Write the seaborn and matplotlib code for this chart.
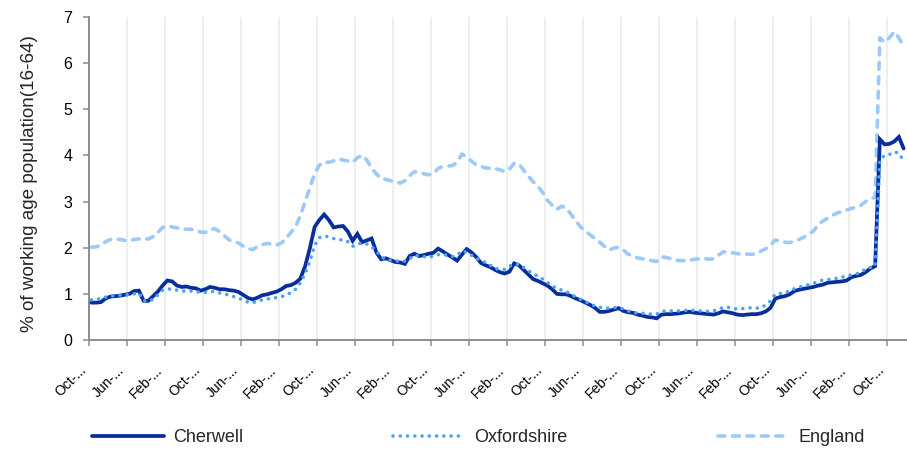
import numpy as np
import pandas as pd
import matplotlib
matplotlib.use("Agg")
import matplotlib.pyplot as plt
import matplotlib.transforms as mtransforms
import seaborn as sns

# ---- data (monthly claimant rate, % of working age population 16-64) ----
cherwell = [
    0.81, 0.81, 0.82, 0.90, 0.94, 0.95, 0.96, 0.98, 1.00, 1.06,
    1.07, 0.85, 0.85, 0.95, 1.05, 1.18, 1.29, 1.27, 1.18, 1.15,
    1.16, 1.13, 1.12, 1.07, 1.10, 1.15, 1.13, 1.10, 1.10,
    1.08, 1.07, 1.04, 0.975, 0.91, 0.88, 0.92, 0.97, 0.99, 1.02,
    1.05, 1.10, 1.17, 1.19, 1.24, 1.33, 1.60, 1.99, 2.45, 2.60,
    2.72, 2.60, 2.44, 2.46, 2.47, 2.35, 2.15,
    2.30, 2.12, 2.16, 2.20, 1.90, 1.75, 1.77, 1.73, 1.69, 1.68,
    1.65, 1.82, 1.87, 1.82, 1.84, 1.87, 1.89, 1.98, 1.92, 1.85,
    1.79, 1.72, 1.85, 1.97, 1.90, 1.80, 1.67, 1.62, 1.58, 1.52,
    1.47, 1.44, 1.48, 1.66, 1.62, 1.52, 1.42, 1.32, 1.28, 1.23,
    1.18, 1.10, 1.00, 0.99, 0.99, 0.95, 0.90, 0.86, 0.81, 0.76,
    0.70, 0.61, 0.61, 0.63, 0.66, 0.69, 0.63, 0.60,
    0.59, 0.55, 0.53, 0.50, 0.49, 0.47, 0.55, 0.56, 0.56, 0.57,
    0.58, 0.60, 0.61, 0.59, 0.58, 0.57, 0.56, 0.55, 0.58, 0.62,
    0.60, 0.58, 0.55, 0.54, 0.55, 0.56, 0.56, 0.58, 0.62,
    0.70, 0.90, 0.93, 0.95, 0.99, 1.06, 1.09, 1.11, 1.13, 1.15,
    1.18, 1.20, 1.24, 1.25, 1.26, 1.27, 1.29, 1.36, 1.39, 1.41,
    1.47, 1.55, 1.60, 4.35, 4.24, 4.25, 4.30, 4.40, 4.15,
]

oxfordshire = [
    0.87, 0.88, 0.90, 0.93, 0.95, 0.96, 0.97, 0.97, 0.99, 1.00,
    1.02, 0.86, 0.84, 0.88, 0.98, 1.08, 1.10, 1.11, 1.08, 1.06,
    1.06, 1.06, 1.05, 1.03, 1.03, 1.05, 1.05, 1.02, 1.00,
    0.97, 0.94, 0.91, 0.86, 0.82, 0.81, 0.84, 0.87, 0.89, 0.90,
    0.92, 0.94, 0.97, 1.03, 1.10, 1.24, 1.44, 1.70, 2.05, 2.22,
    2.25, 2.24, 2.20, 2.17, 2.17, 2.13, 2.03,
    2.08, 2.10, 2.08, 2.02, 1.93, 1.80, 1.75, 1.73, 1.72, 1.70,
    1.71, 1.76, 1.84, 1.82, 1.81, 1.79, 1.82, 1.85, 1.86, 1.83,
    1.81, 1.84, 1.93, 1.90, 1.84, 1.77, 1.72, 1.68, 1.62, 1.55,
    1.53, 1.53, 1.60, 1.64, 1.64, 1.57, 1.50, 1.44, 1.38, 1.32,
    1.25, 1.17, 1.12, 1.08, 1.05, 0.99, 0.93, 0.88, 0.83, 0.78,
    0.74, 0.71, 0.69, 0.69, 0.70, 0.71, 0.67, 0.63,
    0.60, 0.58, 0.58, 0.57, 0.56, 0.56, 0.62, 0.63, 0.63, 0.63,
    0.63, 0.64, 0.65, 0.64, 0.63, 0.63, 0.62, 0.63, 0.68, 0.70,
    0.71, 0.68, 0.67, 0.68, 0.69, 0.70, 0.69, 0.70, 0.76,
    0.85, 1.00, 1.01, 1.02, 1.07, 1.11, 1.15, 1.17, 1.20, 1.23,
    1.26, 1.30, 1.31, 1.32, 1.34, 1.36, 1.39, 1.41, 1.43, 1.47,
    1.54, 1.57, 1.60, 3.90, 4.00, 4.02, 4.08, 4.05, 3.88,
]

england = [
    2.01, 2.02, 2.05, 2.13, 2.18, 2.19, 2.18, 2.16, 2.15, 2.18,
    2.19, 2.18, 2.19, 2.24, 2.33, 2.44, 2.47, 2.45, 2.43, 2.40,
    2.40, 2.40, 2.37, 2.34, 2.33, 2.40, 2.41, 2.35, 2.26,
    2.17, 2.13, 2.10, 2.03, 1.98, 1.96, 2.03, 2.07, 2.09, 2.08,
    2.06, 2.10, 2.20, 2.33, 2.45, 2.70, 3.00, 3.30, 3.60, 3.79,
    3.86, 3.85, 3.88, 3.92, 3.90, 3.88, 3.85,
    3.95, 4.00, 3.90, 3.72, 3.60, 3.50, 3.48, 3.45, 3.43, 3.40,
    3.45, 3.56, 3.65, 3.62, 3.60, 3.58, 3.60, 3.72, 3.76, 3.77,
    3.78, 3.85, 4.03, 3.97, 3.88, 3.80, 3.76, 3.73, 3.72, 3.71,
    3.69, 3.65, 3.70, 3.83, 3.82, 3.68, 3.55, 3.43, 3.33, 3.20,
    3.03, 2.92, 2.83, 2.90, 2.86, 2.72, 2.58, 2.45, 2.36, 2.28,
    2.20, 2.12, 2.03, 1.95, 1.99, 2.01, 1.95, 1.86,
    1.82, 1.78, 1.76, 1.74, 1.72, 1.70, 1.80, 1.79, 1.76, 1.73,
    1.72, 1.72, 1.73, 1.75, 1.76, 1.77, 1.75, 1.76, 1.84, 1.91,
    1.91, 1.89, 1.87, 1.86, 1.86, 1.86, 1.86, 1.93, 1.98,
    2.06, 2.17, 2.14, 2.12, 2.11, 2.14, 2.18, 2.23, 2.29, 2.36,
    2.50, 2.58, 2.64, 2.70, 2.75, 2.79, 2.82, 2.85, 2.88, 2.92,
    3.00, 3.05, 3.10, 6.55, 6.45, 6.55, 6.68, 6.55, 6.35,
]

tick_labels = ["Oct-...", "Jun-...", "Feb-..."] * 7 + ["Oct-..."]
y_ticks = [0, 1, 2, 3, 4, 5, 6, 7]

months = np.arange(len(cherwell))
df = pd.DataFrame({
    "month": months,
    "Cherwell": cherwell,
    "Oxfordshire": oxfordshire,
    "England": england,
})

sns.set_style("white")
plt.rcParams["font.family"] = ["Liberation Sans", "DejaVu Sans"]

W, H = 907, 449
fig = plt.figure(figsize=(W / 100, H / 100), dpi=100)
ax = fig.add_axes([89 / W, 1 - 340 / H, 1 - 89 / W, (340 - 17) / H])

c_cher = "#0a2d9c"
c_oxf = "#4ba2f5"
c_eng = "#9dcafb"

sns.lineplot(data=df, x="month", y="England", ax=ax, color=c_eng,
             linewidth=2.6, linestyle=(0, (1.9, 2.1)),
             dash_capstyle="round", label="England", zorder=2)
sns.lineplot(data=df, x="month", y="Cherwell", ax=ax, color=c_cher,
             linewidth=2.7, solid_joinstyle="miter", label="Cherwell", zorder=3)
sns.lineplot(data=df, x="month", y="Oxfordshire", ax=ax, color=c_oxf,
             linewidth=2.6, linestyle=(0, (0.01, 2.0)),
             dash_capstyle="round", label="Oxfordshire", zorder=4)

ax.set_xlim(-0.5, (907 - 89) / 4.75 - 0.5)
ax.set_ylim(0, 7)
ax.set_yticks(y_ticks)
ax.set_yticklabels([str(v) for v in y_ticks])

tick_pos = [-0.5 + 8 * k for k in range(len(tick_labels))]
ax.set_xticks(tick_pos)
ax.set_xticklabels(tick_labels)

ax.set_xlabel("")
ax.set_ylabel("% of working age population(16-64)", fontsize=13.6)
ax.yaxis.set_label_coords(-0.062, 0.485)

spine_c = "#8c8c8c"
for s in ["top", "right"]:
    ax.spines[s].set_visible(False)
for s in ["left", "bottom"]:
    ax.spines[s].set_color(spine_c)
    ax.spines[s].set_linewidth(1.4)

ax.tick_params(axis="y", length=4, width=1.1, color=spine_c, pad=8,
               labelsize=11.5, left=True, labelcolor="black")
ax.tick_params(axis="x", length=4, width=1.1, color=spine_c, pad=16,
               labelsize=10, bottom=True, labelcolor="black")

offset = mtransforms.ScaledTranslation(-5 / 100, 0, fig.dpi_scale_trans)
for lab in ax.get_xticklabels():
    lab.set_rotation(45)
    lab.set_ha("right")
    lab.set_va("center")
    lab.set_rotation_mode("anchor")
    lab.set_transform(lab.get_transform() + offset)

ax.grid(False)
ax.xaxis.grid(True, color="#eeeeee", linewidth=1.4)
ax.set_axisbelow(True)

# legend in order Cherwell, Oxfordshire, England
handles, labels = ax.get_legend_handles_labels()
order = [labels.index(n) for n in ["Cherwell", "Oxfordshire", "England"]]
if ax.legend_:
    ax.legend_.remove()
fig.legend([handles[i] for i in order], [labels[i] for i in order],
           loc="center left", bbox_to_anchor=(92 / W, 1 - 438 / H),
           ncol=3, frameon=False, fontsize=13, handlelength=4.0,
           handletextpad=0.5, columnspacing=8.3, borderpad=0,
           borderaxespad=0)

fig.savefig("out.png", dpi=100)
